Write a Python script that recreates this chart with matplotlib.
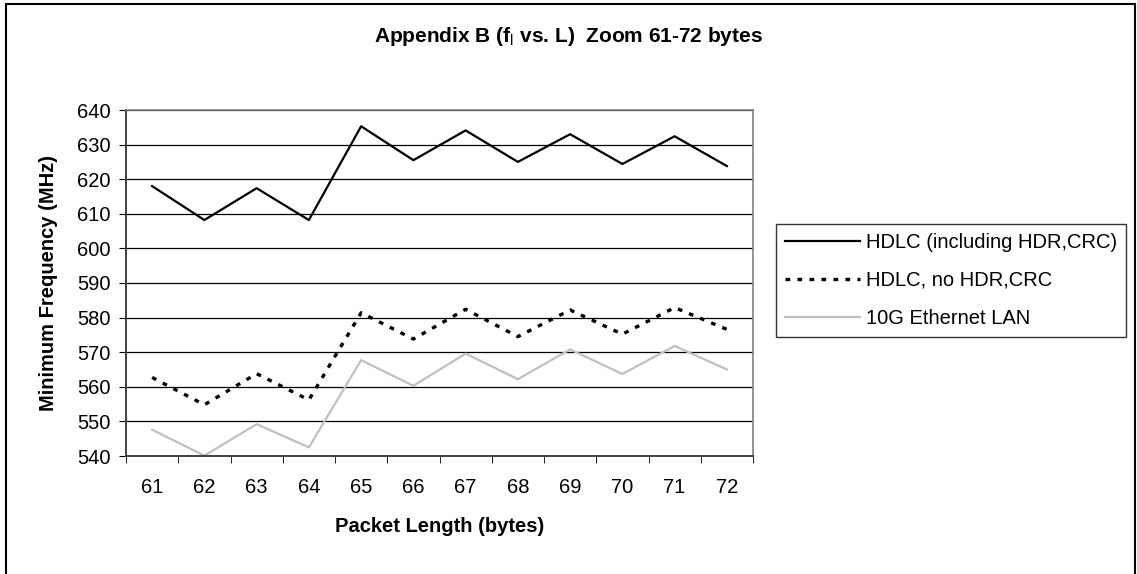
import numpy as np
import matplotlib.pyplot as plt
from matplotlib.patches import Rectangle

plt.rcParams['font.family'] = ['Liberation Sans', 'DejaVu Sans']
plt.rcParams['mathtext.fontset'] = 'custom'
plt.rcParams['mathtext.rm'] = 'Liberation Sans'
plt.rcParams['mathtext.bf'] = 'Liberation Sans:bold'

# dati
lunghezze = ['61', '62', '63', '64', '65', '66', '67', '68', '69', '70', '71', '72']
hdlc_completo = [618.0, 608.2, 617.4, 608.2, 635.3, 625.5, 634.1, 625.0, 633.0, 624.4, 632.4, 623.8]
hdlc_senza_hdr = [562.7, 554.8, 563.8, 556.2, 581.4, 573.8, 582.4, 574.5, 582.2, 575.2, 582.9, 576.6]
ethernet_10g = [547.6, 540.1, 549.2, 542.5, 567.7, 560.3, 569.6, 562.2, 570.8, 563.7, 571.8, 565.0]

nomi = ['HDLC (including HDR,CRC)', 'HDLC, no HDR,CRC', '10G Ethernet LAN']

fig = plt.figure(figsize=(11.37, 5.74), dpi=100)
ax = fig.add_axes([126 / 1137, 1 - 456 / 574, (753 - 126) / 1137, (456 - 110) / 574])

x = np.arange(len(lunghezze))
ax.plot(x, hdlc_completo, color='black', lw=1.6, label=nomi[0])
ax.plot(x, hdlc_senza_hdr, color='black', lw=2.4, linestyle=(0, (1.4, 2.2)), label=nomi[1])
ax.plot(x, ethernet_10g, color='#c0c0c0', lw=1.6, label=nomi[2])

ax.set_xlim(-0.5, len(lunghezze) - 0.5)
ax.set_ylim(540, 640)
ax.set_yticks(np.arange(540, 641, 10))
ax.set_xticks(x)
ax.set_xticklabels(lunghezze)
ax.set_xticks(np.arange(-0.5, len(lunghezze)), minor=True)
ax.tick_params(axis='x', which='major', length=0, labelsize=14.5, pad=16)
ax.tick_params(axis='x', which='minor', length=5, direction='out', color='black')
ax.tick_params(axis='y', length=5, direction='out', labelsize=14.5, pad=6, color='black')

ax.yaxis.grid(True, color='black', lw=0.9)
ax.set_axisbelow(True)
for lato in ['top', 'right']:
    ax.spines[lato].set_color('#808080')
    ax.spines[lato].set_linewidth(1.2)
for lato in ['left', 'bottom']:
    ax.spines[lato].set_color('#404040')
    ax.spines[lato].set_linewidth(1.4)

ax.set_xlabel('Packet Length (bytes)', fontsize=14.5, fontweight='bold', labelpad=14)
ax.set_ylabel('Minimum Frequency (MHz)', fontsize=14.5, fontweight='bold', labelpad=14)

fig.text(0.5, 1 - 37 / 574, r'Appendix B (f$_\mathrm{l}$ vs. L)  Zoom 61-72 bytes',
         ha='center', va='center', fontsize=15, fontweight='bold')

leg = ax.legend(loc='upper left', bbox_to_anchor=(776 / 1137, 1 - 224 / 574),
                bbox_transform=fig.transFigure, borderaxespad=0, fontsize=14.5,
                frameon=True, fancybox=False, handlelength=3.7, handletextpad=0.3,
                labelspacing=0.94, borderpad=0.45)
leg.get_frame().set_edgecolor('black')
leg.get_frame().set_linewidth(1.0)

# cornice esterna
fig.patches.append(Rectangle((5.5 / 1137, -0.02), (1135 - 5.5) / 1137, 1.02 - 4 / 574,
                             transform=fig.transFigure, fill=False, edgecolor='black', lw=1.5))

fig.savefig('out.png', dpi=100)
